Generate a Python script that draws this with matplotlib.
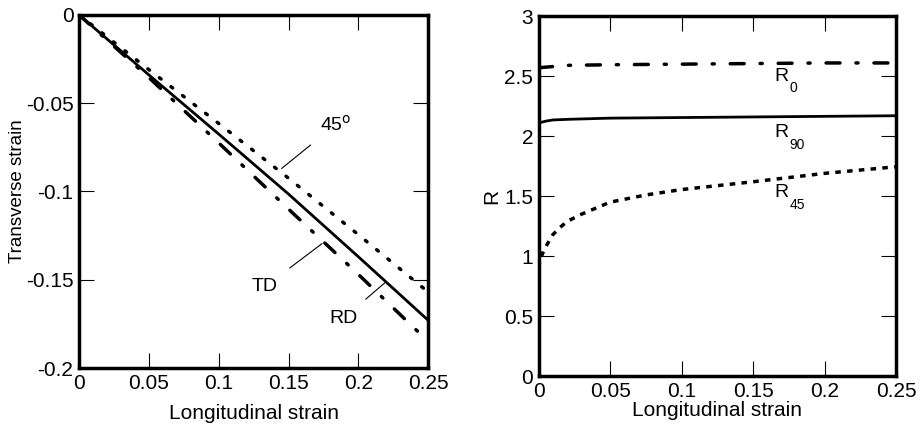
#Strain paths and R-values vs longitudinal strain

import numpy as np
import matplotlib.pyplot as plt

plt.rcParams['font.family'] = ['Liberation Sans', 'DejaVu Sans']

#Left panel: transverse vs longitudinal strain
eps_long = [0, 0.05, 0.1, 0.15, 0.2, 0.25]
eps_rd = [0, -0.034, -0.0675, -0.1015, -0.137, -0.173]
eps_45 = [0, -0.031, -0.0615, -0.0925, -0.1245, -0.157]
eps_td = [0, -0.0355, -0.0725, -0.110, -0.147, -0.185]

#Right panel: R-values vs longitudinal strain
r0_x = [0, 0.01, 0.02, 0.05, 0.1, 0.15, 0.2, 0.25]
r0_y = [2.57, 2.58, 2.59, 2.595, 2.60, 2.605, 2.61, 2.61]
r90_x = [0, 0.005, 0.01, 0.02, 0.05, 0.1, 0.15, 0.2, 0.25]
r90_y = [2.11, 2.125, 2.135, 2.14, 2.15, 2.155, 2.16, 2.165, 2.17]
r45_x = [0, 0.001, 0.003, 0.006, 0.01, 0.015, 0.02, 0.03, 0.05, 0.075, 0.1, 0.15, 0.2, 0.25]
r45_y = [0.90, 0.97, 1.03, 1.10, 1.18, 1.24, 1.29, 1.35, 1.45, 1.51, 1.555, 1.62, 1.69, 1.745]

dashdot = (0, (4, 4.6, 0.6, 4.6))
dots_left = (0, (0.6, 3.6))
dots_right = (0, (1.6, 1.8))

fig = plt.figure(figsize=(9.24, 4.25), dpi=100)
ax1 = fig.add_axes([0.0855, 0.134, 0.378, 0.831])
ax2 = fig.add_axes([0.583, 0.115, 0.387, 0.847])

ax1.plot(eps_long, eps_rd, color='black', linewidth=2)
ax1.plot(eps_long, eps_45, color='black', linewidth=2.5, linestyle=dots_left, dash_capstyle='round')
ax1.plot(eps_long, eps_td, color='black', linewidth=2.5, linestyle=dashdot, dash_capstyle='round')

ax1.annotate(r'45$^{\mathrm{o}}$', xy=(0.145, -0.087), xytext=(0.184, -0.062),
             fontsize=14, ha='center', va='center',
             arrowprops=dict(arrowstyle='-', color='black', lw=0.8, shrinkA=9, shrinkB=0))
ax1.annotate('TD', xy=(0.174, -0.1295), xytext=(0.133, -0.154),
             fontsize=14, ha='center', va='center',
             arrowprops=dict(arrowstyle='-', color='black', lw=0.8, shrinkA=9, shrinkB=0))
ax1.annotate('RD', xy=(0.22, -0.151), xytext=(0.189, -0.172),
             fontsize=14, ha='center', va='center',
             arrowprops=dict(arrowstyle='-', color='black', lw=0.8, shrinkA=9, shrinkB=0))

ax1.set_xlim(0, 0.25)
ax1.set_ylim(-0.2, 0)
ax1.set_xticks([0, 0.05, 0.1, 0.15, 0.2, 0.25])
ax1.set_xticklabels(['0', '0.05', '0.1', '0.15', '0.2', '0.25'])
ax1.set_yticks([-0.2, -0.15, -0.1, -0.05, 0])
ax1.set_yticklabels(['-0.2', '-0.15', '-0.1', '-0.05', '0'])
ax1.set_xlabel('Longitudinal strain', fontsize=15, labelpad=8)
ax1.set_ylabel('Transverse strain', fontsize=13.5, labelpad=0)

ax2.plot(r0_x, r0_y, color='black', linewidth=2.5, linestyle=dashdot, dash_capstyle='round')
ax2.plot(r90_x, r90_y, color='black', linewidth=2)
ax2.plot(r45_x, r45_y, color='black', linewidth=2.5, linestyle=dots_right)

ax2.text(0.165, 2.5, 'R', fontsize=14, ha='left', va='center')
ax2.text(0.1755, 2.40, '0', fontsize=10, ha='left', va='center')
ax2.text(0.165, 2.03, 'R', fontsize=14, ha='left', va='center')
ax2.text(0.1755, 1.93, '90', fontsize=10, ha='left', va='center')
ax2.text(0.165, 1.53, 'R', fontsize=14, ha='left', va='center')
ax2.text(0.1755, 1.43, '45', fontsize=10, ha='left', va='center')

ax2.set_xlim(0, 0.25)
ax2.set_ylim(0, 3)
ax2.set_xticks([0, 0.05, 0.1, 0.15, 0.2, 0.25])
ax2.set_xticklabels(['0', '0.05', '0.1', '0.15', '0.2', '0.25'])
ax2.set_yticks([0, 0.5, 1, 1.5, 2, 2.5, 3])
ax2.set_yticklabels(['0', '0.5', '1', '1.5', '2', '2.5', '3'])
ax2.set_xlabel('Longitudinal strain', fontsize=15, labelpad=0)
ax2.set_ylabel('R', fontsize=15, labelpad=2)

for ax in (ax1, ax2):
    for sp in ax.spines.values():
        sp.set_linewidth(2.5)
    ax.tick_params(direction='in', length=11, width=0.8, top=True, right=True,
                   labelsize=15, pad=4)

plt.savefig('out.png', dpi=100)
